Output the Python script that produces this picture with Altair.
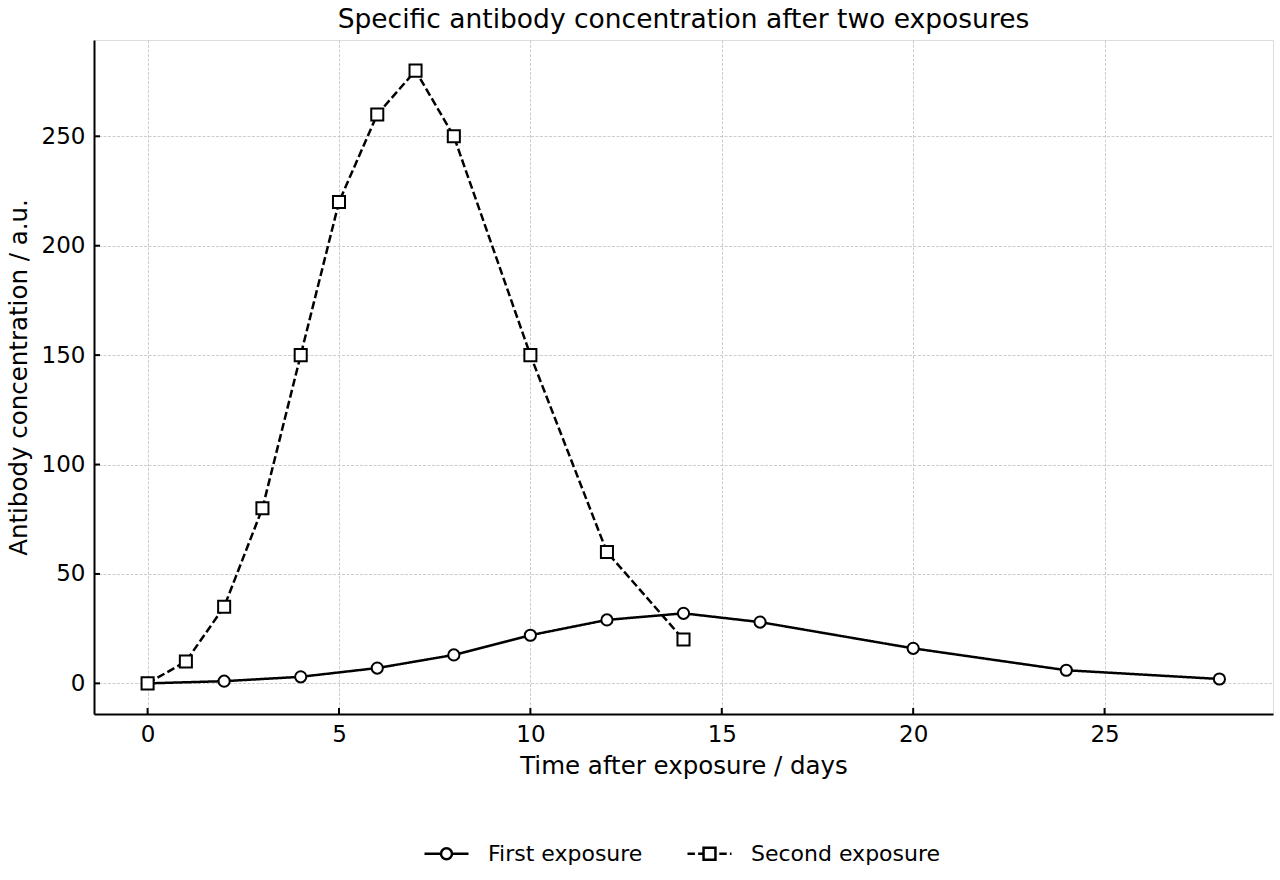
import altair as alt
import pandas as pd

# Antibody response after the first exposure
first_days = [0, 2, 4, 6, 8, 10, 12, 14, 16, 20, 24, 28]
first_conc = [0, 1, 3, 7, 13, 22, 29, 32, 28, 16, 6, 2]

# Antibody response after the second exposure
second_days = [0, 1, 2, 3, 4, 5, 6, 7, 8, 10, 12, 14]
second_conc = [0, 10, 35, 80, 150, 220, 260, 280, 250, 150, 60, 20]

series_names = ["First exposure", "Second exposure"]
x_ticks = [0, 5, 10, 15, 20, 25]
y_ticks = [0, 50, 100, 150, 200, 250]

W, H = 1179, 674
FONT = "DejaVu Sans"

df = pd.concat([
    pd.DataFrame({"day": first_days, "conc": first_conc, "series": series_names[0]}),
    pd.DataFrame({"day": second_days, "conc": second_conc, "series": series_names[1]}),
])

x_scale = alt.Scale(domain=[-1.4, 29.4], nice=False, zero=False)
y_scale = alt.Scale(domain=[-14, 294], nice=False, zero=False)

axis_common = dict(
    grid=True, gridColor="#c0c0c0", gridWidth=0.8, gridDash=[3, 1.5],
    ticks=False, domainColor="black", domainWidth=2,
    labelFont=FONT, labelFontSize=23, labelColor="black",
    titleFont=FONT, titleFontSize=24.5, titleFontWeight="normal", titleColor="black",
    labelPadding=9,
)

x_enc = alt.X("day:Q", scale=x_scale,
              axis=alt.Axis(values=x_ticks, title="Time after exposure / days",
                            titlePadding=8, **axis_common))
y_enc = alt.Y("conc:Q", scale=y_scale,
              axis=alt.Axis(values=y_ticks, title="Antibody concentration / a.u.",
                            titlePadding=10, **axis_common))

base = alt.Chart(df)

lines = base.mark_line(color="black", strokeWidth=2.5).encode(
    x=x_enc, y=y_enc,
    detail="series:N",
    strokeDash=alt.StrokeDash("series:N", legend=None,
                              scale=alt.Scale(domain=series_names, range=[[1, 0], [8, 3.4]])),
)

points = base.mark_point(filled=True, fill="white", stroke="black", strokeWidth=2,
                         opacity=1).encode(
    x="day:Q", y="conc:Q",
    shape=alt.Shape("series:N", legend=None,
                    scale=alt.Scale(domain=series_names, range=["circle", "square"])),
    size=alt.Size("series:N", legend=None,
                  scale=alt.Scale(domain=series_names, range=[125, 145])),
)

# Legend glyphs: line with marker, in unit symbol coordinates
circle_glyph = ("M-1,0L-0.25,0M0.25,0L1,0"
                "M-0.25,0A0.25,0.25 0 1,1 0.25,0A0.25,0.25 0 1,1 -0.25,0Z")
square_glyph = ("M-1,0L-0.664,0M-0.518,0L-0.27,0M0.445,0L0.782,0M0.927,0L1,0"
                "M-0.27,-0.27L0.27,-0.27L0.27,0.27L-0.27,0.27Z")

# Legend driver: its own marks sit outside the y domain and are clipped away
legend_layer = base.transform_calculate(
    offscreen="-1000", legend_series="datum.series"
).mark_point(filled=False, stroke="black", strokeWidth=2.5, clip=True).encode(
    x="day:Q", y="offscreen:Q",
    shape=alt.Shape(
        "legend_series:N",
        scale=alt.Scale(domain=series_names, range=[circle_glyph, square_glyph]),
        legend=alt.Legend(
            title=None, orient="none", direction="horizontal",
            legendX=329, legendY=790,
            symbolSize=1936, symbolStrokeWidth=2.5, symbolStrokeColor="black",
            symbolOpacity=1,
            labelFont=FONT, labelFontSize=22, labelColor="black", labelLimit=400,
            labelOffset=18, columnPadding=39,
        ),
    ),
)

x_tick_df = pd.DataFrame({"day": x_ticks})
y_tick_df = pd.DataFrame({"conc": y_ticks})

x_tick_marks = alt.Chart(x_tick_df).mark_rule(color="black", strokeWidth=2).encode(
    x=alt.X("day:Q"), y=alt.value(H), y2=alt.value(H - 6))
y_tick_marks = alt.Chart(y_tick_df).mark_rule(color="black", strokeWidth=2).encode(
    y=alt.Y("conc:Q"), x=alt.value(0), x2=alt.value(6))

chart = alt.layer(lines, points, legend_layer, x_tick_marks, y_tick_marks).resolve_scale(
    shape="independent"
).properties(
    width=W, height=H,
    title=alt.Title("Specific antibody concentration after two exposures",
                    font=FONT, fontSize=26.5, fontWeight="normal", color="black",
                    anchor="middle", offset=7),
    autosize=alt.AutoSizeParams(type="none"),
    padding={"left": 94, "top": 40, "right": 7, "bottom": 166},
).configure_view(stroke=None).configure(background="white")

chart.save("out.html", embed_options={"renderer": "svg", "actions": False})
